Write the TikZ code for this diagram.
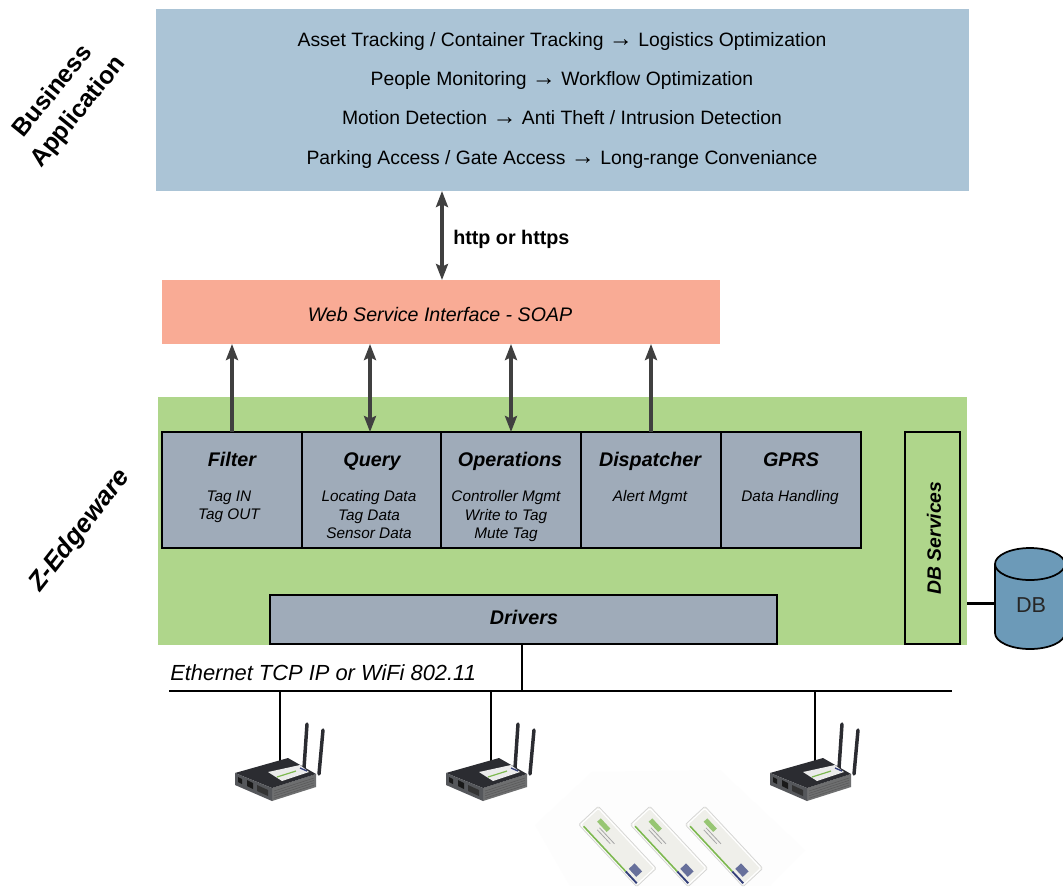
\documentclass[tikz,border=0pt]{standalone}
\usepackage{fontspec}
\setmainfont{Liberation Sans}
\usetikzlibrary{arrows.meta}
\definecolor{bizblue}{HTML}{ABC4D6}
\definecolor{soapred}{HTML}{F9AB95}
\definecolor{edgegreen}{HTML}{AFD68B}
\definecolor{modgray}{HTML}{9FABB9}
\definecolor{dbblue}{HTML}{6C9AB8}
\definecolor{arrowgray}{HTML}{404040}
\definecolor{rtop}{HTML}{2B2C31}
\definecolor{rfront}{HTML}{55575B}
\definecolor{rside}{HTML}{6E6F70}
\definecolor{cardface}{HTML}{EFEFEA}
\definecolor{cardgreen}{HTML}{7DB850}
\definecolor{cardnavy}{HTML}{34407A}
\newcommand{\arr}{{\fontsize{18}{14}\selectfont →}}
\tikzset{
  x=0.75pt,y=-0.75pt,
  layer/.style={draw=none,inner sep=0,outer sep=0,anchor=north west},
  modbox/.style={draw=black,line width=1.5pt,fill=modgray,inner sep=0,outer sep=0,anchor=north west,minimum height=87pt},
  biz/.style={font=\fontsize{14.5}{14}\selectfont,anchor=base,inner sep=0},
  modtitle/.style={font=\fontsize{14.8}{16}\selectfont\bfseries\itshape,anchor=base,inner sep=0},
  moddesc/.style={font=\fontsize{11.5}{13.9}\selectfont\itshape,align=center,anchor=north},
  bizlabel/.style={font=\fontsize{18.6}{24.5}\selectfont\bfseries,align=center,anchor=center},
  zlabel/.style={font=\fontsize{19.4}{22}\selectfont\bfseries\itshape,anchor=center},
  dbl/.style={draw=arrowgray,line width=2.3pt,{Stealth[length=12pt,width=9pt,inset=2pt]}-{Stealth[length=12pt,width=9pt,inset=2pt]}},
  sgl/.style={draw=arrowgray,line width=2.3pt,-{Stealth[length=12pt,width=9pt,inset=2pt]}},
  wire/.style={draw=black,line width=1pt},
  pics/router/.style={code={
    % antennas
    \draw[line cap=round,line width=2.6pt,rtop] (27,-44) -- (24,0);
    \draw[line cap=round,line width=2.6pt,rtop] (43,-38) -- (39,6);
    % body
    \fill[rside] (-8,20) -- (36,6) -- (36,19) -- (-8,33) -- cycle;
    \fill[rtop] (-45,5) -- (8,-10) -- (36,6) -- (-8,20) -- cycle;
    \fill[rfront] (-45,5) -- (-8,20) -- (-8,33) -- (-45,17) -- cycle;
    \foreach \k in {0,1,2,3}
      \draw[black!65,line width=.4pt] (-6,{23+2.4*\k}) -- (34,{10+2.4*\k});
    % label
    \fill[white!92!black] (-12,4) -- (20,-3) -- (29,4) -- (2,13) -- cycle;
    \draw[cardgreen,line width=.9pt] (-3,9) -- (16,3);
    \draw[cardnavy,line width=1pt] (20,0) -- (27,3);
    % ports
    \fill[black!90] (-42,9) -- (-38,11) -- (-38,16) -- (-42,14) -- cycle;
    \fill[black!90] (-33,12) -- (-27,15) -- (-27,21) -- (-33,18) -- cycle;
    \fill[black!80] (-23,17) -- (-12,22) -- (-12,28) -- (-23,23) -- cycle;
  }},
  pics/tagcard/.style={code={
    \begin{scope}[rotate=-47]
      \fill[cardface,rounded corners=1pt] (-42.5,-13.5) rectangle (42.5,13.5);
      \draw[black!18,line width=.4pt,rounded corners=1pt] (-42.5,-13.5) rectangle (42.5,13.5);
      \draw[white,line width=.8pt,rounded corners=1pt] (-41,-12) rectangle (41,12);
      \draw[cardgreen,line width=1.2pt] (-38,11) -- (24,11);
      \draw[cardnavy,line width=1.4pt] (24,11) -- (40,11);
      \fill[cardgreen!80] (-32,-7) rectangle (-18,-2);
      \fill[black!35] (-26,0) rectangle (-4,.8);
      \fill[black!35] (-26,3) rectangle (-7,3.8);
      \fill[cardnavy!75] (24,-1) rectangle (35,7);
    \end{scope}
  }},
}
\begin{document}
\begin{tikzpicture}
\useasboundingbox (0,0) rectangle (1063,886);
\fill[white] (0,0) rectangle (1063,886);

% Business layer
\node[layer,fill=bizblue,minimum width=609.75pt,minimum height=136.5pt] (business) at (156,9) {};
\node[biz] (b1) at (562,46) {Asset Tracking / Container Tracking \arr{} Logistics Optimization};
\node[biz] (b2) at (562,85) {People Monitoring \arr{} Workflow Optimization};
\node[biz] (b3) at (562,124) {Motion Detection \arr{} Anti Theft / Intrusion Detection};
\node[biz] (b4) at (562,164) {Parking Access / Gate Access \arr{} Long-range Conveniance};

% SOAP
\node[layer,fill=soapred,minimum width=418.5pt,minimum height=48pt] (soap) at (162,280) {};
\node[font=\fontsize{14.7}{14}\selectfont\itshape,anchor=base,inner sep=0] (soaptext) at (440,321) {Web Service Interface - SOAP};

% Green layer
\node[layer,fill=edgegreen,minimum width=606.75pt,minimum height=186pt] (edge) at (158,397) {};

% Modules
\node[modbox,minimum width=105pt] (filter) at (162,432) {};
\node[modbox,minimum width=104.25pt] (query) at (302,432) {};
\node[modbox,minimum width=105pt] (ops) at (441,432) {};
\node[modbox,minimum width=105pt] (disp) at (581,432) {};
\node[modbox,minimum width=105pt] (gprs) at (721,432) {};

\node[modtitle] (t1) at (232,466) {Filter};
\node[modtitle] (t2) at (372,466) {Query};
\node[modtitle] (t3) at (510,466) {Operations};
\node[modtitle] (t4) at (650,466) {Dispatcher};
\node[modtitle] (t5) at (791,466) {GPRS};

\node[moddesc] (d1) at (229,486) {Tag IN\\Tag OUT};
\node[moddesc] (d2) at (369,486) {Locating Data\\Tag Data\\Sensor Data};
\node[moddesc] (d3) at (506,486) {Controller Mgmt\\Write to Tag\\Mute Tag};
\node[moddesc] (d4) at (650,486) {Alert Mgmt};
\node[moddesc] (d5) at (790,486) {Data Handling};

% DB services
\node[layer,draw=black,line width=1.5pt,fill=edgegreen,minimum width=41pt,minimum height=159pt] (dbs) at (905,432) {};
\node[font=\fontsize{14.5}{14}\selectfont\bfseries\itshape,rotate=90] (dbstext) at (934,538) {DB Services};

% Drivers
\node[modbox,minimum width=380pt,minimum height=36.5pt] (drivers) at (270,595) {};
\node[modtitle] (dt) at (524,624) {Drivers};

% Arrows
\coordinate (httpx) at (442,200);
\coordinate (queryx) at (370,400);
\draw[dbl] (soap.north -| httpx) -- (business.south -| httpx);
\node[font=\fontsize{14.8}{14}\selectfont\bfseries,anchor=base west,inner sep=0] (http) at (453,244) {http or https};
\draw[sgl] (filter.north) -- (filter.north |- soap.south);
\draw[dbl] (query.north -| queryx) -- (soap.south -| queryx);
\draw[dbl] (ops.north) -- (ops.north |- soap.south);
\draw[sgl] (disp.north) -- (disp.north |- soap.south);

% DB cylinder
\node[inner sep=0,outer sep=0,minimum width=52.5pt,minimum height=75.75pt,anchor=north west] (db) at (995,548) {};
\coordinate (dbline) at (980,603);
\draw[black,line width=1.3pt,fill=dbblue] (995,564) -- (995,633) arc[x radius=26.25pt,y radius=12pt,start angle=180,end angle=360] -- (1065,564) arc[x radius=26.25pt,y radius=12pt,start angle=0,end angle=180] -- cycle;
\draw[black,line width=1.3pt] (995,564) arc[x radius=26.25pt,y radius=12pt,start angle=180,end angle=360];
\node[font=\fontsize{16.2}{16}\selectfont,text=black!85,anchor=base,inner sep=0] (dbt) at (1031,612) {DB};
\draw[draw=black,line width=2.25pt] (edge.east |- dbline) -- (db.west |- dbline);

% Bus
\coordinate (busL) at (169,691);
\coordinate (busR) at (952,691);
\coordinate (drop) at (522,691);
\draw[wire] (busL) -- (busR);
\draw[wire] (drivers.south -| drop) -- (drop);
\node[font=\fontsize{16.4}{15}\selectfont\itshape,anchor=base west,inner sep=0] (eth) at (170,680) {Ethernet TCP IP or WiFi 802.11};

% Tags background
\fill[black!0.8] (535,825) -- (592,772) -- (720,770) -- (805,850) -- (770,886) -- (570,886) -- cycle;
\pic at (617.5,846.5) {tagcard};
\pic at (669,846.5) {tagcard};
\pic at (724,846.5) {tagcard};

% Routers
\coordinate (r1) at (280,768);
\coordinate (r2) at (491,768);
\coordinate (r3) at (815,768);
\coordinate (r1t) at (280,691);
\coordinate (r2t) at (491,691);
\coordinate (r3t) at (815,691);
\draw[wire] (r1t) -- (r1);
\draw[wire] (r2t) -- (r2);
\draw[wire] (r3t) -- (r3);
\pic at (r1) {router};
\pic at (r2) {router};
\pic at (r3) {router};

% Side labels
\node[bizlabel,rotate=51] (lb) at (66,102) {Business\\Application};
\node[zlabel,rotate=52] (lz) at (80,531) {Z-Edgeware};
\end{tikzpicture}
\end{document}
